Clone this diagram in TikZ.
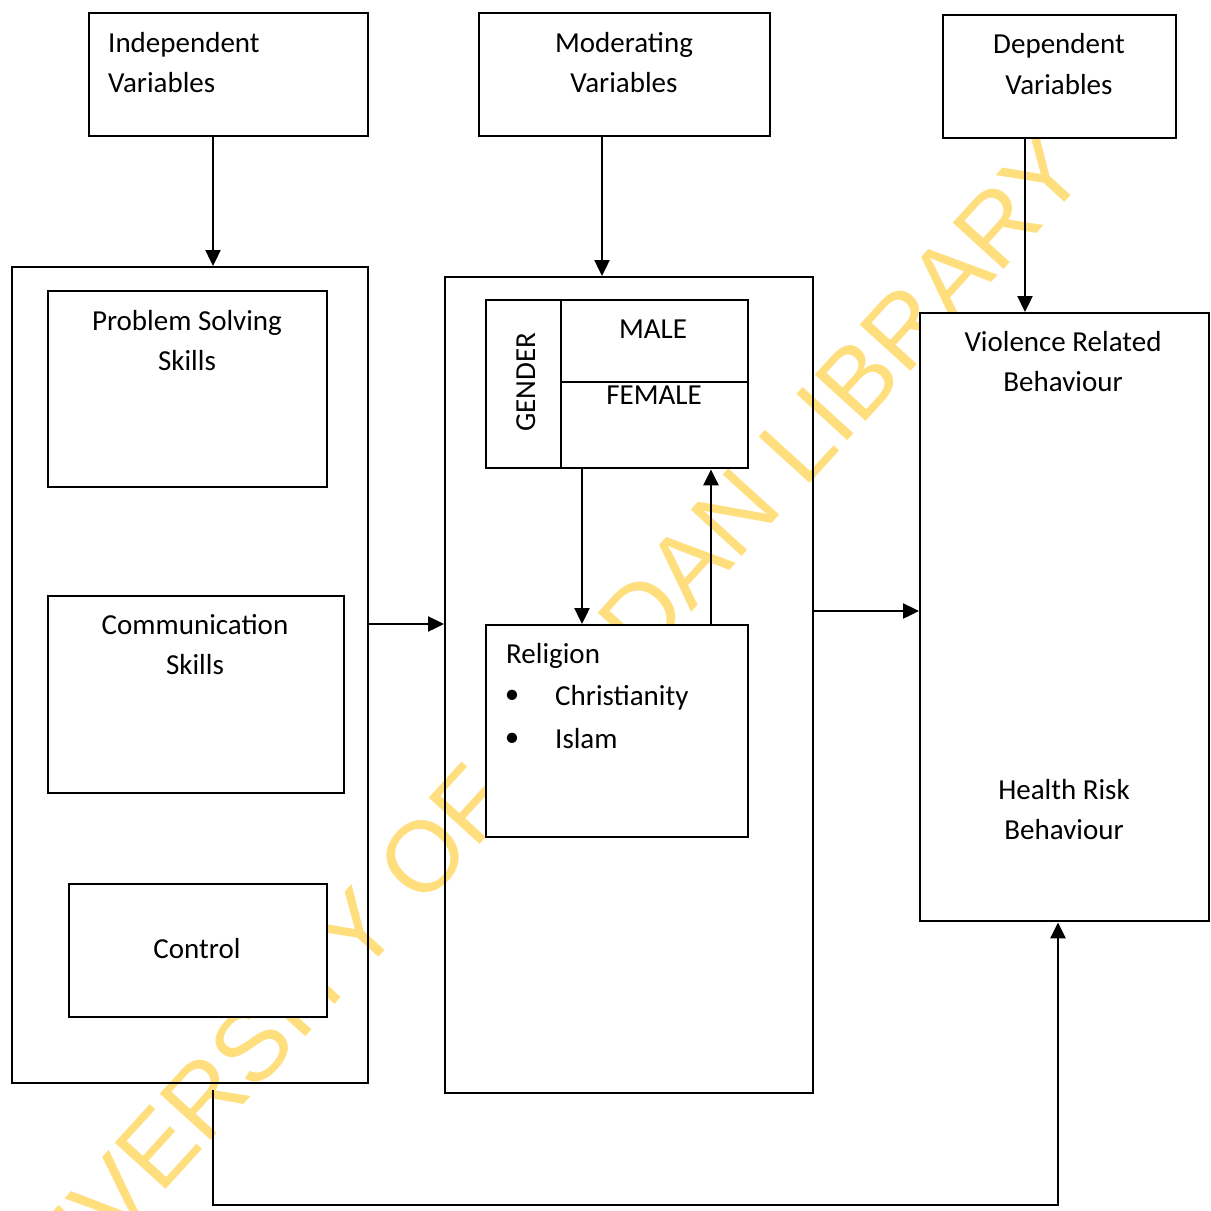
\documentclass[tikz,border=0pt]{standalone}
\usepackage{fontspec}
\setmainfont{Carlito}
\newfontfamily\wmfont{Liberation Sans}
\usetikzlibrary{arrows.meta}
\definecolor{wmyellow}{RGB}{255,222,125}
\tikzset{
  outerbox/.style={draw, line width=2.4pt, inner sep=0, anchor=north west},
  innerbox/.style={draw, line width=2.4pt, fill=white, inner sep=0, anchor=north west},
  lbl/.style={inner sep=0, font=\fontsize{29}{40.5}\selectfont, align=center, anchor=north},
  word/.style={inner sep=0, font=\fontsize{29}{40.5}\selectfont},
  arr/.style={line width=2.4pt, -{Triangle[length=16pt,width=15pt]}},
  divider/.style={line width=2.4pt}
}
\begin{document}
\begin{tikzpicture}[x=1pt,y=-1pt]
\useasboundingbox (0,0) rectangle (1211,1211);
\fill[white] (0,0) rectangle (1211,1211);

% watermark
\node[rotate=47.7, text=wmyellow, inner sep=0, font=\wmfont\fontsize{100}{100}\selectfont] (wm) at (520,750) {UNIVERSITY OF IBADAN LIBRARY};

% boxes
\node[innerbox, minimum width=279pt, minimum height=123pt] (iv) at (88,12) {};
\node[innerbox, minimum width=291pt, minimum height=123pt] (mv) at (478,12) {};
\node[innerbox, minimum width=233pt, minimum height=123pt] (dv) at (942,14) {};

\node[outerbox, minimum width=356pt, minimum height=816pt] (lbox) at (11,266) {};
\node[innerbox, minimum width=279pt, minimum height=196pt] (ps) at (47,290) {};
\node[innerbox, minimum width=296pt, minimum height=197pt] (cs) at (47,595) {};
\node[innerbox, minimum width=258pt, minimum height=133pt] (ctl) at (68,883) {};

\node[outerbox, minimum width=368pt, minimum height=816pt] (mbox) at (444,276) {};
\node[innerbox, minimum width=262pt, minimum height=168pt] (gender) at (485,299) {};
\node[innerbox, minimum width=262pt, minimum height=212pt] (rel) at (485,624) {};

\node[innerbox, minimum width=289pt, minimum height=608pt] (rbox) at (919,312) {};

% gender dividers
\coordinate (xg) at (561,0);
\coordinate (yg) at (0,382);
\draw[divider] (gender.north -| xg) -- (gender.south -| xg);
\draw[divider] (xg |- yg) -- (gender.east |- yg);

% texts
\node[lbl, anchor=north west, align=left] (ivt) at (108,23.65) {\strut Independent\\\strut Variables};
\node[lbl] (mvt) at (624,23.65) {\strut Moderating\\\strut Variables};
\node[lbl] (dvt) at (1059,25.15) {\strut Dependent\\\strut Variables};
\node[lbl] (pst) at (187,301.65) {\strut Problem Solving\\\strut Skills};
\node[lbl] (cst) at (195,605.65) {\strut Communication\\\strut Skills};
\node[word, anchor=base] (ctlt) at (197,958) {Control};
\node[word, anchor=base] (malet) at (653,338) {MALE};
\node[word, anchor=base] (femalet) at (654,404) {FEMALE};
\node[word, anchor=base, rotate=90] (gendert) at (535,382.5) {GENDER};
\node[word, anchor=base west] (relt) at (506,663) {Religion};
\node[word] (b1) at (512,697) {•};
\node[word] (b2) at (512,740) {•};
\node[word, anchor=base west] (chr) at (555,705) {Christianity};
\node[word, anchor=base west] (isl) at (555,748) {Islam};
\node[lbl] (vrt) at (1063,322.65) {\strut Violence Related\\\strut Behaviour};
\node[lbl] (hrt) at (1064,770.65) {\strut Health Risk\\\strut Behaviour};

% connector positions
\coordinate (xa) at (213,0);
\coordinate (xb) at (602,0);
\coordinate (xc) at (1025,0);
\coordinate (xd) at (582,0);
\coordinate (xe) at (711,0);
\coordinate (xf) at (1058,0);
\coordinate (ya) at (0,624);
\coordinate (yb) at (0,611);
\coordinate (yc) at (0,1205);

% connectors
\draw[arr] (iv.south -| xa) -- (lbox.north -| xa);
\draw[arr] (mv.south -| xb) -- (mbox.north -| xb);
\draw[arr] (dv.south -| xc) -- (rbox.north -| xc);
\draw[arr] (lbox.east |- ya) -- (mbox.west |- ya);
\draw[arr] (mbox.east |- yb) -- (rbox.west |- yb);
\draw[arr] (gender.south -| xd) -- (rel.north -| xd);
\draw[arr] (rel.north -| xe) -- (gender.south -| xe);
\draw[arr, shorten <=6pt] (lbox.south -| xa) -- (xa |- yc) -| (rbox.south -| xf);
\end{tikzpicture}
\end{document}
